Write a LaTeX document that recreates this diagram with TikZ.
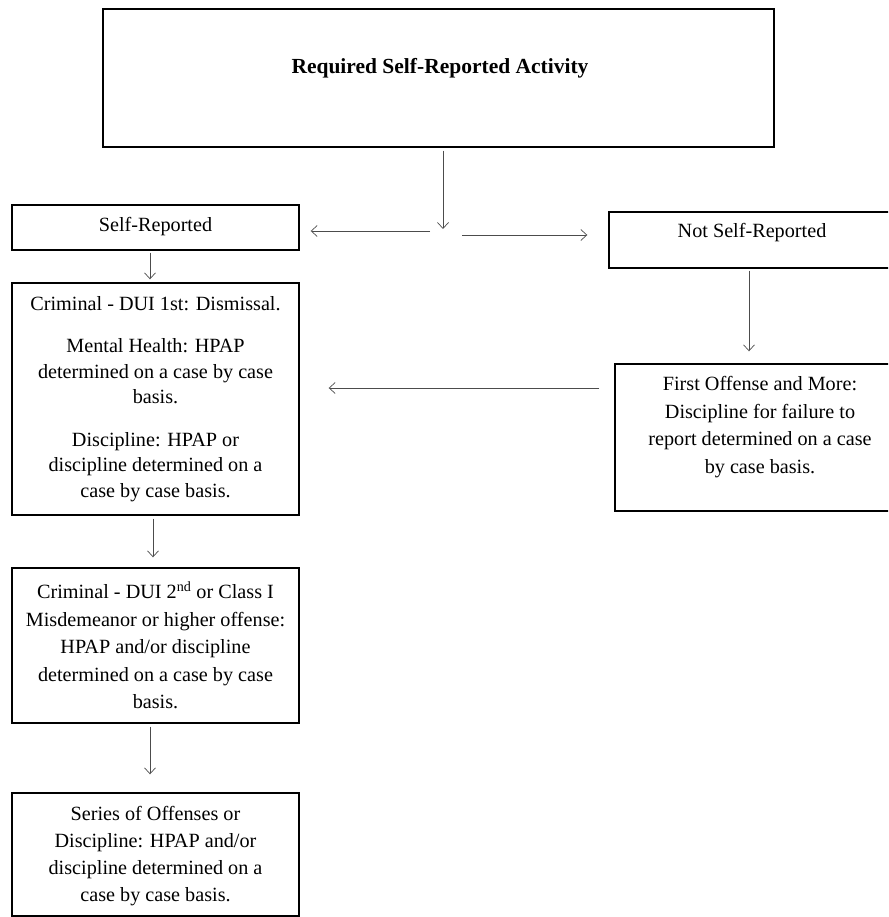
\documentclass[tikz,border=0pt]{standalone}
\usepackage{fontspec}
\setmainfont{Liberation Serif}
\usetikzlibrary{arrows.meta}

\begin{document}
\begin{tikzpicture}[x=1pt,y=-1pt,
  box/.style={draw=black, line width=1.4pt, inner sep=0pt},
  txt/.style={align=center, inner sep=0pt, font=\fontsize{20.2}{26.5}\selectfont},
  arr/.style={draw=black!70, line width=0.7pt, -{Straight Barb[length=6pt,width=11pt]}}
]
\useasboundingbox (0,0) rectangle (888,917);
\clip (0,0) rectangle (888,917);

% boxes
\node[box, minimum width=671pt, minimum height=138pt] (top) at (438.5,78) {};
\node[txt, font=\fontsize{21.5}{26}\selectfont\bfseries] (toptxt) at (440,68) {Required Self-Reported Activity};

\node[box, minimum width=287pt, minimum height=45pt] (selfrep) at (155.5,227.5) {};
\node[txt] (selfreptxt) at (155.5,227) {Self-Reported};

\node[box, minimum width=300pt, minimum height=56pt] (notself) at (759,240) {};
\node[txt] (notselftxt) at (752,233) {Not Self-Reported};

\node[box, minimum width=287pt, minimum height=232pt] (crim1) at (155.5,399) {};
\node[txt, font=\fontsize{20.2}{25.5}\selectfont] (crim1txt) at (155.5,399)
  {Criminal - DUI 1st: Dismissal.\\[16.5pt]
   Mental Health: HPAP\\ determined on a case by case\\ basis.\\[17pt]
   Discipline: HPAP or\\ discipline determined on a\\ case by case basis.};

\node[box, minimum width=300pt, minimum height=147pt] (first) at (765,437.5) {};
\node[txt, font=\fontsize{20.2}{27.5}\selectfont] (firsttxt) at (760,427)
  {First Offense and More:\\ Discipline for failure to\\ report determined on a case\\ by case basis.};

\node[box, minimum width=287pt, minimum height=155pt] (crim2) at (155.5,645.5) {};
\node[txt, font=\fontsize{20.2}{27.5}\selectfont] (crim2txt) at (155.5,645)
  {Criminal - DUI 2\textsuperscript{nd} or Class I\\ Misdemeanor or higher offense:\\ HPAP and/or discipline\\ determined on a case by case\\ basis.};

\node[box, minimum width=287pt, minimum height=123pt] (series) at (155.5,854.5) {};
\node[txt, font=\fontsize{20.2}{27}\selectfont] (seriestxt) at (155.5,856)
  {Series of Offenses or\\ Discipline: HPAP and/or\\ discipline determined on a\\ case by case basis.};

% branching point below the top box
\coordinate (split) at (443,229);
\coordinate (splitL) at (430,231);
\coordinate (splitR) at (462,235);

% connectors
\draw[arr] (top.south -| split) ++(0,3) -- (split);
\draw[arr, shorten >=11pt] (splitL) -- (splitL -| selfrep.east);
\draw[arr, shorten >=21pt] (splitR) -- (splitR -| notself.west);
\draw[arr, shorten <=2pt, shorten >=3pt] ([xshift=-5.5pt]selfrep.south) -- ([xshift=-5.5pt]selfrep.south |- crim1.north);
\draw[arr, shorten <=2pt, shorten >=12pt] (notself.south -| 749,0) -- (first.north -| 749,0);
\draw[arr, shorten <=15pt, shorten >=29pt] (first.west |- 0,388) -- (crim1.east |- 0,388);
\draw[arr, shorten <=3pt, shorten >=10pt] ([xshift=-2.5pt]crim1.south) -- ([xshift=-2.5pt]crim1.south |- crim2.north);
\draw[arr, shorten <=3pt, shorten >=18pt] ([xshift=-5.5pt]crim2.south) -- ([xshift=-5.5pt]crim2.south |- series.north);
\end{tikzpicture}
\end{document}
